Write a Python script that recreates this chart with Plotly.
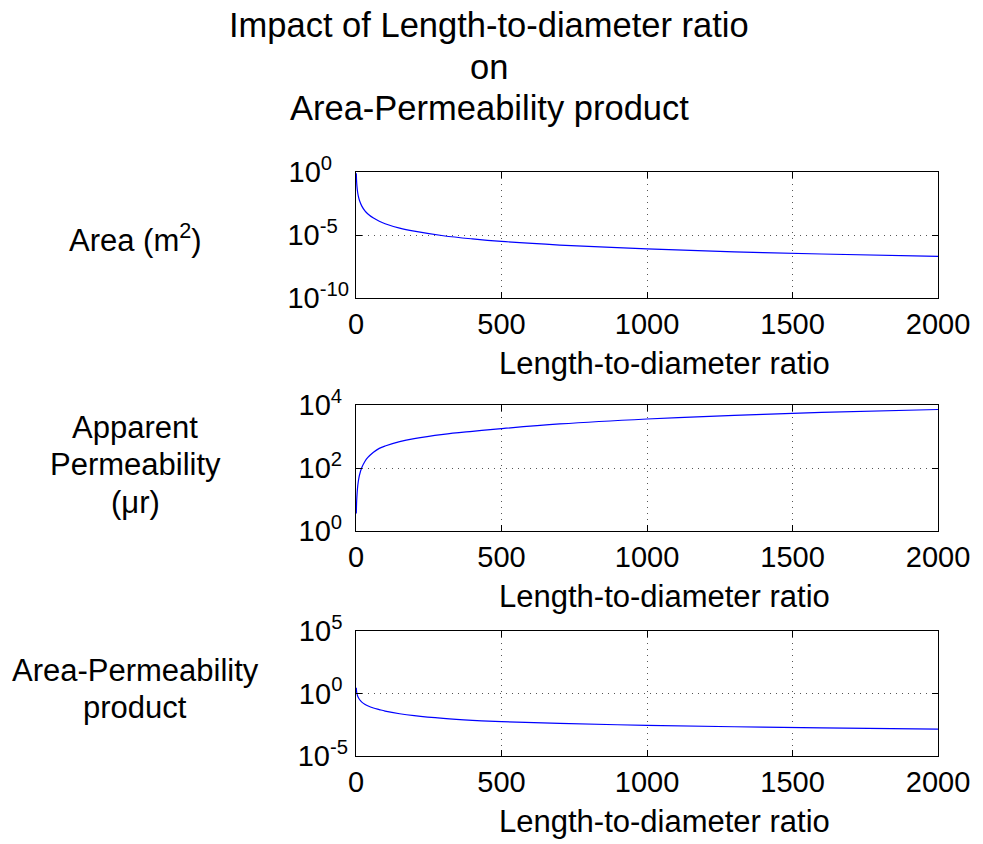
import plotly.graph_objects as go

# ---------------- data ----------------
ratio = [1, 2, 3, 5, 8, 12, 20, 30, 40, 60, 80, 100, 150, 200, 300, 400,
         500, 700, 1000, 1300, 1600, 2000]
area = [0.785, 0.196, 0.087, 0.031, 0.0123, 0.0055, 0.00196, 8.7e-4, 4.9e-4,
        2.2e-4, 1.23e-4, 7.9e-5, 3.5e-5, 2.0e-5, 8.7e-6, 4.9e-6, 3.1e-6,
        1.6e-6, 7.9e-7, 4.6e-7, 3.1e-7, 2.0e-7]
permeability = [3.6, 7.6, 12, 22, 38, 60, 104, 158, 212, 315, 420, 500, 690,
                860, 1170, 1460, 1780, 2500, 3600, 4700, 5800, 7200]
product = [2.83, 1.49, 1.05, 0.69, 0.47, 0.33, 0.204, 0.138, 0.104, 0.0687,
           0.0515, 0.0393, 0.0241, 0.0169, 0.0102, 0.00716, 0.00559, 0.0040,
           0.00283, 0.00218, 0.00178, 0.00141]

x_ticks = [0, 500, 1000, 1500, 2000]
x_ticktext = ["0", "500", "1000", "1500", "2000"]
y1_ticks = [1e-10, 1e-5, 1]
y1_ticktext = ["10<sup>-10</sup>", "10<sup>-5\u2007</sup>", "10<sup>0\u2007\u00a0</sup>"]
y2_ticks = [1, 1e2, 1e4]
y2_ticktext = ["10<sup>0</sup>", "10<sup>2</sup>", "10<sup>4</sup>"]
y3_ticks = [1e-5, 1, 1e5]
y3_ticktext = ["10<sup>-5</sup>", "10<sup>0\u00a0</sup>", "10<sup>5\u00a0</sup>"]

title_lines = ["Impact of Length-to-diameter ratio", "on", "Area-Permeability product"]
xlabel = "Length-to-diameter ratio"
ylabel1 = ["Area (m<sup>2</sup>)"]
ylabel2 = ["Apparent", "Permeability", "(μr)"]
ylabel3 = ["Area-Permeability", "product"]

# ---------------- layout helpers ----------------
W, H = 983, 844
FONT = "Liberation Sans, Arial, Helvetica, sans-serif"
BLUE = "#0000ff"

def px(x):
    return x / W

def py(y):
    return 1 - y / H

plots = [  # (top, bottom, y tick standoff) in pixels
    (172, 298, 0),
    (405, 531, 7),
    (631, 756, 1),
]
x_left, x_right = 356, 938

fig = go.Figure()
ys = [area, permeability, product]
yticks = [(y1_ticks, y1_ticktext, [-10, 0]),
          (y2_ticks, y2_ticktext, [0, 4]),
          (y3_ticks, y3_ticktext, [-5, 5])]

for i, (top, bot, ystand) in enumerate(plots):
    n = "" if i == 0 else str(i + 1)
    fig.add_trace(go.Scatter(x=ratio, y=ys[i], mode="lines",
                             line=dict(color=BLUE, width=1.2, shape="spline"),
                             xaxis="x" + n, yaxis="y" + n, showlegend=False,
                             cliponaxis=True))
    tv, tt, rng = yticks[i]
    common = dict(showline=True, linecolor="black", linewidth=1.3,
                  mirror="ticks", ticks="inside", ticklen=6,
                  tickcolor="black", tickwidth=1, automargin=False,
                  showgrid=True, gridcolor="#555555", griddash="1px,5px",
                  gridwidth=1, zeroline=False,
                  tickfont=dict(family=FONT, size=29, color="black"))
    fig.layout["xaxis" + n] = dict(
        domain=[px(x_left), px(x_right)], anchor="y" + n,
        range=[0, 2000], tickmode="array", tickvals=x_ticks,
        ticktext=x_ticktext, ticklabelstandoff=0, **common)
    fig.layout["yaxis" + n] = dict(
        domain=[py(bot), py(top)], anchor="x" + n, type="log",
        range=rng, tickmode="array", tickvals=tv, ticktext=tt,
        ticklabelstandoff=ystand, **common)
    # x-axis title
    fig.add_annotation(x=px(664), y=py(bot + 65), xref="paper", yref="paper",
                       text=xlabel, showarrow=False,
                       font=dict(family=FONT, size=31, color="black"),
                       xanchor="center", yanchor="middle")

def label(lines, cx, cy0, step, size=31):
    for k, t in enumerate(lines):
        fig.add_annotation(x=px(cx), y=py(cy0 + k * step), xref="paper",
                           yref="paper", text=t, showarrow=False,
                           font=dict(family=FONT, size=size, color="black"),
                           xanchor="center", yanchor="middle")

label(title_lines, 489, 25, 41.5, size=34.5)
label(ylabel1, 135, 238, 0)
label(ylabel2, 135, 427, 37.5)
label(ylabel3, 135, 670, 37.5)

fig.update_layout(width=W, height=H, margin=dict(l=0, r=0, t=0, b=0),
                  paper_bgcolor="white", plot_bgcolor="white",
                  showlegend=False)

fig.write_html("out.html")
